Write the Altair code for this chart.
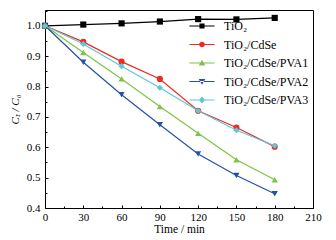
import altair as alt
import pandas as pd

time = [0, 30, 60, 90, 120, 150, 180]
series_names = ["TiO₂", "TiO₂/CdSe", "TiO₂/CdSe/PVA1", "TiO₂/CdSe/PVA2", "TiO₂/CdSe/PVA3"]
tio2 = [1.0, 1.004, 1.008, 1.014, 1.022, 1.021, 1.026]
cdse = [1.0, 0.947, 0.882, 0.825, 0.720, 0.665, 0.602]
pva1 = [1.0, 0.912, 0.825, 0.734, 0.646, 0.559, 0.493]
pva2 = [1.0, 0.880, 0.773, 0.674, 0.578, 0.507, 0.447]
pva3 = [1.0, 0.940, 0.867, 0.796, 0.720, 0.656, 0.605]

colors = ["#000000", "#ee2a24", "#7ec24a", "#2550a8", "#5ccad6"]
shapes = ["square", "circle", "triangle-up", "triangle-down", "diamond"]

x_major = [0, 30, 60, 90, 120, 150, 180, 210]
x_minor = [15, 45, 75, 105, 135, 165, 195]
y_major = [0.4, 0.5, 0.6, 0.7, 0.8, 0.9, 1.0]
y_minor = [0.45, 0.55, 0.65, 0.75, 0.85, 0.95, 1.05]

line_seg = "M-4.2,-0.17H4.2V0.17H-4.2Z"
legend_paths = [
    line_seg + "M-0.85,-0.85H0.85V0.85H-0.85Z",
    line_seg + "M0.95,0A0.95,0.95,0,1,1,-0.95,0A0.95,0.95,0,1,1,0.95,0Z",
    line_seg + "M0,-1.05L1.1,0.85H-1.1Z",
    line_seg + "M0,1.05L1.1,-0.85H-1.1Z",
    line_seg + "M0,-1.15L1.0,0L0,1.15L-1.0,0Z",
]

rows = []
for name, vals in zip(series_names, [tio2, cdse, pva1, pva2, pva3]):
    for t, v in zip(time, vals):
        rows.append({"series": name, "t": t, "c": v})
df = pd.DataFrame(rows)

FONT = "Liberation Serif"
xs = alt.Scale(domain=[0, 210], nice=False)
ys = alt.Scale(domain=[0.4, 1.052], nice=False)
cscale = alt.Scale(domain=series_names, range=colors)

ax_x_major = alt.Axis(values=x_major, title="Time / min", grid=False, domain=False,
                      tickSize=3, offset=-3, labelPadding=3, tickColor="black",
                      labelFont=FONT, labelFontSize=11, labelColor="black",
                      titleFont=FONT, titleFontSize=11.5, titleFontWeight="normal",
                      titleColor="black", titlePadding=1, labelFlush=False)
ax_y_major = alt.Axis(values=y_major, title="Cₜ / C₀", grid=False, domain=False,
                      tickSize=3, offset=-3, labelPadding=5, tickColor="black",
                      format=".1f", labelFont=FONT, labelFontSize=11, labelColor="black",
                      titleFont=FONT, titleFontSize=11, titleFontWeight="normal",
                      titleFontStyle="italic", titleColor="black", titlePadding=6,
                      labelFlush=False)
ax_x_minor = alt.Axis(values=x_minor, title=None, grid=False, domain=False, labels=False,
                      tickSize=2, offset=-2, tickColor="black", orient="bottom")
ax_y_minor = alt.Axis(values=y_minor, title=None, grid=False, domain=False, labels=False,
                      tickSize=2, offset=-2, tickColor="black", orient="left")

layers = []
for i, name in enumerate(series_names):
    sub = alt.Chart(df).transform_filter(alt.datum.series == name)
    first = i == 0
    line = sub.mark_line(strokeWidth=1.2, color=colors[i]).encode(
        x=alt.X("t:Q", scale=xs, axis=ax_x_major if first else None),
        y=alt.Y("c:Q", scale=ys, axis=ax_y_major if first else None),
    )
    pts = sub.mark_point(filled=True, opacity=1, size=38, shape=shapes[i], color=colors[i]).encode(
        x=alt.X("t:Q", scale=xs, axis=None),
        y=alt.Y("c:Q", scale=ys, axis=None),
    )
    layers += [line, pts]

legend = alt.Legend(title=None, orient="none", legendX=151, legendY=10,
                    symbolSize=36, labelOffset=16, rowPadding=6.5, padding=0,
                    labelFont=FONT, labelFontSize=12, labelColor="black",
                    labelLimit=0, symbolStrokeWidth=0)
legend_layer = alt.Chart(df).mark_point(filled=True, opacity=1, size=0).encode(
    x=alt.X("t:Q", scale=xs, axis=ax_x_minor),
    y=alt.Y("c:Q", scale=ys, axis=ax_y_minor),
    color=alt.Color("series:N", scale=cscale, legend=legend),
    shape=alt.Shape("series:N", scale=alt.Scale(domain=series_names, range=legend_paths),
                    legend=legend),
)

chart = alt.layer(*layers, legend_layer).resolve_axis(x="independent", y="independent").properties(
    width=268, height=198,
    autosize=alt.AutoSizeParams(type="none"),
    padding={"left": 45, "top": 10, "right": 23, "bottom": 32},
    background="white",
).configure_view(stroke="black", strokeWidth=1)

chart.save("out.html", embed_options={"renderer": "svg", "actions": False})
